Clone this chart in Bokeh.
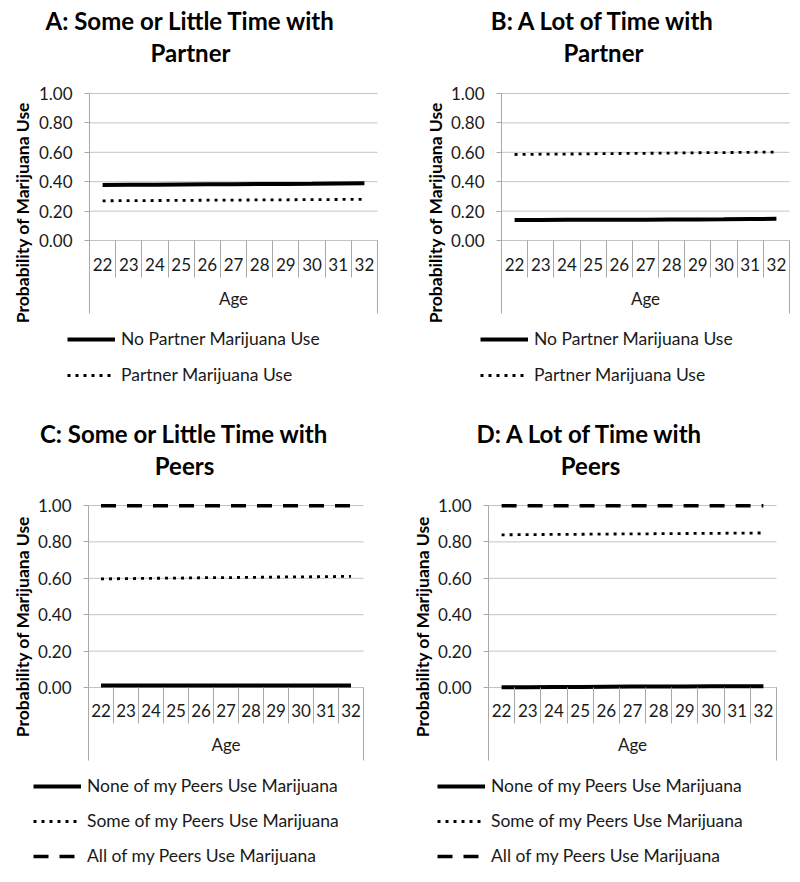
import math
from bokeh.plotting import figure
from bokeh.models import (Range1d, LinearAxis, FixedTicker, Legend, LegendItem,
                          Label, PrintfTickFormatter, ColumnDataSource)
from bokeh.layouts import column, row
from bokeh.embed import file_html
from bokeh.resources import INLINE

# ---------------- data ----------------
ages = [22, 23, 24, 25, 26, 27, 28, 29, 30, 31, 32]
y_ticks = [0.0, 0.2, 0.4, 0.6, 0.8, 1.0]

a_no_partner = [0.378, 0.379, 0.380, 0.381, 0.382, 0.383, 0.384, 0.385, 0.386, 0.388, 0.389]
a_partner = [0.270, 0.271, 0.272, 0.273, 0.274, 0.275, 0.276, 0.277, 0.278, 0.279, 0.280]

b_no_partner = [0.140, 0.140, 0.141, 0.141, 0.142, 0.142, 0.143, 0.143, 0.144, 0.146, 0.148]
b_partner = [0.585, 0.587, 0.588, 0.590, 0.592, 0.593, 0.595, 0.597, 0.598, 0.600, 0.602]

c_none = [0.011, 0.011, 0.011, 0.011, 0.011, 0.011, 0.011, 0.011, 0.011, 0.011, 0.011]
c_some = [0.597, 0.598, 0.600, 0.601, 0.603, 0.604, 0.605, 0.607, 0.608, 0.609, 0.611]
c_all = [0.998, 0.998, 0.998, 0.998, 0.998, 0.998, 0.998, 0.998, 0.998, 0.998, 0.998]

d_none = [0.002, 0.002, 0.003, 0.003, 0.004, 0.005, 0.006, 0.006, 0.007, 0.007, 0.007]
d_some = [0.839, 0.840, 0.841, 0.842, 0.843, 0.844, 0.845, 0.846, 0.847, 0.848, 0.849]
d_all = [0.999, 0.999, 0.999, 0.999, 0.999, 0.999, 0.999, 0.999, 0.999, 0.999, 0.999]

partner_labels = ["No Partner Marijuana Use", "Partner Marijuana Use"]
peer_labels = ["None of my Peers Use Marijuana", "Some of my Peers Use Marijuana",
               "All of my Peers Use Marijuana"]
y_title = "Probability of Marijuana Use"
x_title = "Age"

# ---------------- styles ----------------
FONT = "Lato"
GRID = "#c3c3c3"
AXIS = "#a8a8a8"
TXT = "#1a1a1a"
STYLES = [dict(line_dash="solid", line_width=4),
          dict(line_dash="3 5", line_width=2.8),
          dict(line_dash="15 11", line_width=3.5)]


def panel(title1, title2, series, labels, g):
    fw, fh = g["fw"], g["fh"]
    left, right, y1, y0, bottom = g["left"], g["right"], g["y1"], g["y0"], g["bottom"]
    xlo, xhi = ages[0] - 0.5, ages[-1] + 0.5
    xs = (right - left) / (xhi - xlo)          # px per category
    ys = float(y0 - y1)                          # px per unit
    x_start = xlo - left / xs
    x_end = xhi + (fw - right) / xs
    y_end = y0 / ys
    y_start = (y0 - fh) / ys
    ybot = -(bottom - y0) / ys

    def dx(px):
        return xlo + (px - left) / xs

    def dy(py):
        return (y0 - py) / ys

    p = figure(width=fw, height=fh, x_range=Range1d(x_start, x_end),
               y_range=Range1d(y_start, y_end), x_axis_type=None, y_axis_type=None,
               toolbar_location=None, output_backend="svg",
               min_border=0)
    p.outline_line_color = None
    p.background_fill_color = "white"
    p.border_fill_color = "white"

    # horizontal grid lines across the category box
    grid_src = ColumnDataSource(dict(x0=[xlo] * len(y_ticks), x1=[xhi] * len(y_ticks),
                                     y=y_ticks))
    p.segment(x0="x0", y0="y", x1="x1", y1="y", source=grid_src,
              line_color=GRID, line_width=1)

    # left value axis
    yax = LinearAxis(fixed_location=xlo, bounds=(ybot, 1.0),
                     ticker=FixedTicker(ticks=y_ticks, minor_ticks=[]),
                     formatter=PrintfTickFormatter(format="%.2f"),
                     major_label_text_font=FONT, major_label_text_font_size="17px",
                     major_label_text_color=TXT, major_label_standoff=12,
                     major_tick_out=5, major_tick_in=0, minor_tick_out=0, minor_tick_in=0,
                     axis_line_color=AXIS, major_tick_line_color=AXIS)
    p.add_layout(yax, "left")

    # right edge of the category box
    rax = LinearAxis(fixed_location=xhi, bounds=(ybot, 0.0),
                     ticker=FixedTicker(ticks=[], minor_ticks=[]),
                     major_tick_out=0, major_tick_in=0, minor_tick_out=0, minor_tick_in=0,
                     major_label_text_font_size="0px", axis_line_color=AXIS)
    p.add_layout(rax, "right")

    # category separators hanging below y = 0
    sax = LinearAxis(fixed_location=0, bounds=(xlo, xhi),
                     ticker=FixedTicker(ticks=[], minor_ticks=[a - 0.5 for a in ages] + [xhi]),
                     major_tick_out=0, major_tick_in=0,
                     minor_tick_out=g["sep"], minor_tick_in=0,
                     major_label_text_font_size="0px",
                     minor_tick_line_color=AXIS, axis_line_color=None)
    p.add_layout(sax, "below")

    # category labels
    xax = LinearAxis(fixed_location=0, bounds=(xlo, xhi),
                     ticker=FixedTicker(ticks=ages, minor_ticks=[]),
                     axis_label=x_title, axis_label_text_font=FONT,
                     axis_label_text_font_style="normal", axis_label_text_font_size="17px",
                     axis_label_text_color=TXT, axis_label_standoff=g["age_so"],
                     major_label_text_font=FONT, major_label_text_font_size="17px",
                     major_label_text_color=TXT, major_label_standoff=g["lab_so"],
                     major_tick_out=0, major_tick_in=0, minor_tick_out=0, minor_tick_in=0,
                     axis_line_color=None)
    p.add_layout(xax, "below")

    items = []
    for vals, lab, st in zip(series, labels, STYLES):
        r = p.line(ages, vals, line_color="black", line_cap="butt", **st)
        items.append(LegendItem(label=lab, renderers=[r]))

    n = len(items)
    sp = g["leg_sp"]
    leg_h = 20 * n + sp * (n - 1)
    leg_top = g["leg_r1"] - 10
    leg = Legend(items=items, location=(g["leg_x"], fh - (leg_top + leg_h)),
                 orientation="vertical", border_line_color=None,
                 background_fill_alpha=0, padding=0, margin=0, spacing=sp,
                 glyph_width=48, glyph_height=20, label_height=20, label_standoff=6,
                 label_text_font=FONT, label_text_font_size="17.5px",
                 label_text_color=TXT)
    p.add_layout(leg)

    # y-axis title
    p.add_layout(Label(x=dx(g["yl_x"]), y=dy(g["yl_y"]), text=y_title, angle=math.pi / 2,
                       text_align="center", text_baseline="middle", text_font=FONT,
                       text_font_style="bold", text_font_size="17.5px", text_color="black"))

    # panel title (two lines)
    for txt, ty in ((title1, g["t1"]), (title2, g["t2"])):
        p.add_layout(Label(x=dx(g["tcx"]), y=dy(ty), text=txt, text_align="center",
                           text_baseline="middle", text_font=FONT,
                           text_font_style="bold", text_font_size="24px",
                           text_color="black"))
    return p


top = dict(fh=413, y1=93, y0=240, bottom=313, sep=37, lab_so=17, age_so=14,
           t1=20, t2=52, yl_y=212, leg_r1=340, leg_sp=15)
bot = dict(fh=461, y1=92, y0=274, bottom=347, sep=36, lab_so=16, age_so=14,
           t1=20, t2=52, yl_y=213, leg_r1=375, leg_sp=14)

gA = dict(top, fw=400, left=89, right=377, tcx=190, yl_x=22, leg_x=67)
gB = dict(top, fw=392, left=101, right=389, tcx=203, yl_x=35, leg_x=80)
gC = dict(bot, fw=400, left=88, right=363, tcx=184, yl_x=22, leg_x=33)
gD = dict(bot, fw=392, left=88, right=376, tcx=190, yl_x=22, leg_x=37)

pA = panel("A: Some or Little Time with", "Partner", [a_no_partner, a_partner],
           partner_labels, gA)
pB = panel("B: A Lot of Time with", "Partner", [b_no_partner, b_partner],
           partner_labels, gB)
pC = panel("C: Some or Little Time with", "Peers", [c_none, c_some, c_all],
           peer_labels, gC)
pD = panel("D: A Lot of Time with", "Peers", [d_none, d_some, d_all],
           peer_labels, gD)

layout = column(row(pA, pB), row(pC, pD))
open("out.html", "w").write(file_html(layout, INLINE))
